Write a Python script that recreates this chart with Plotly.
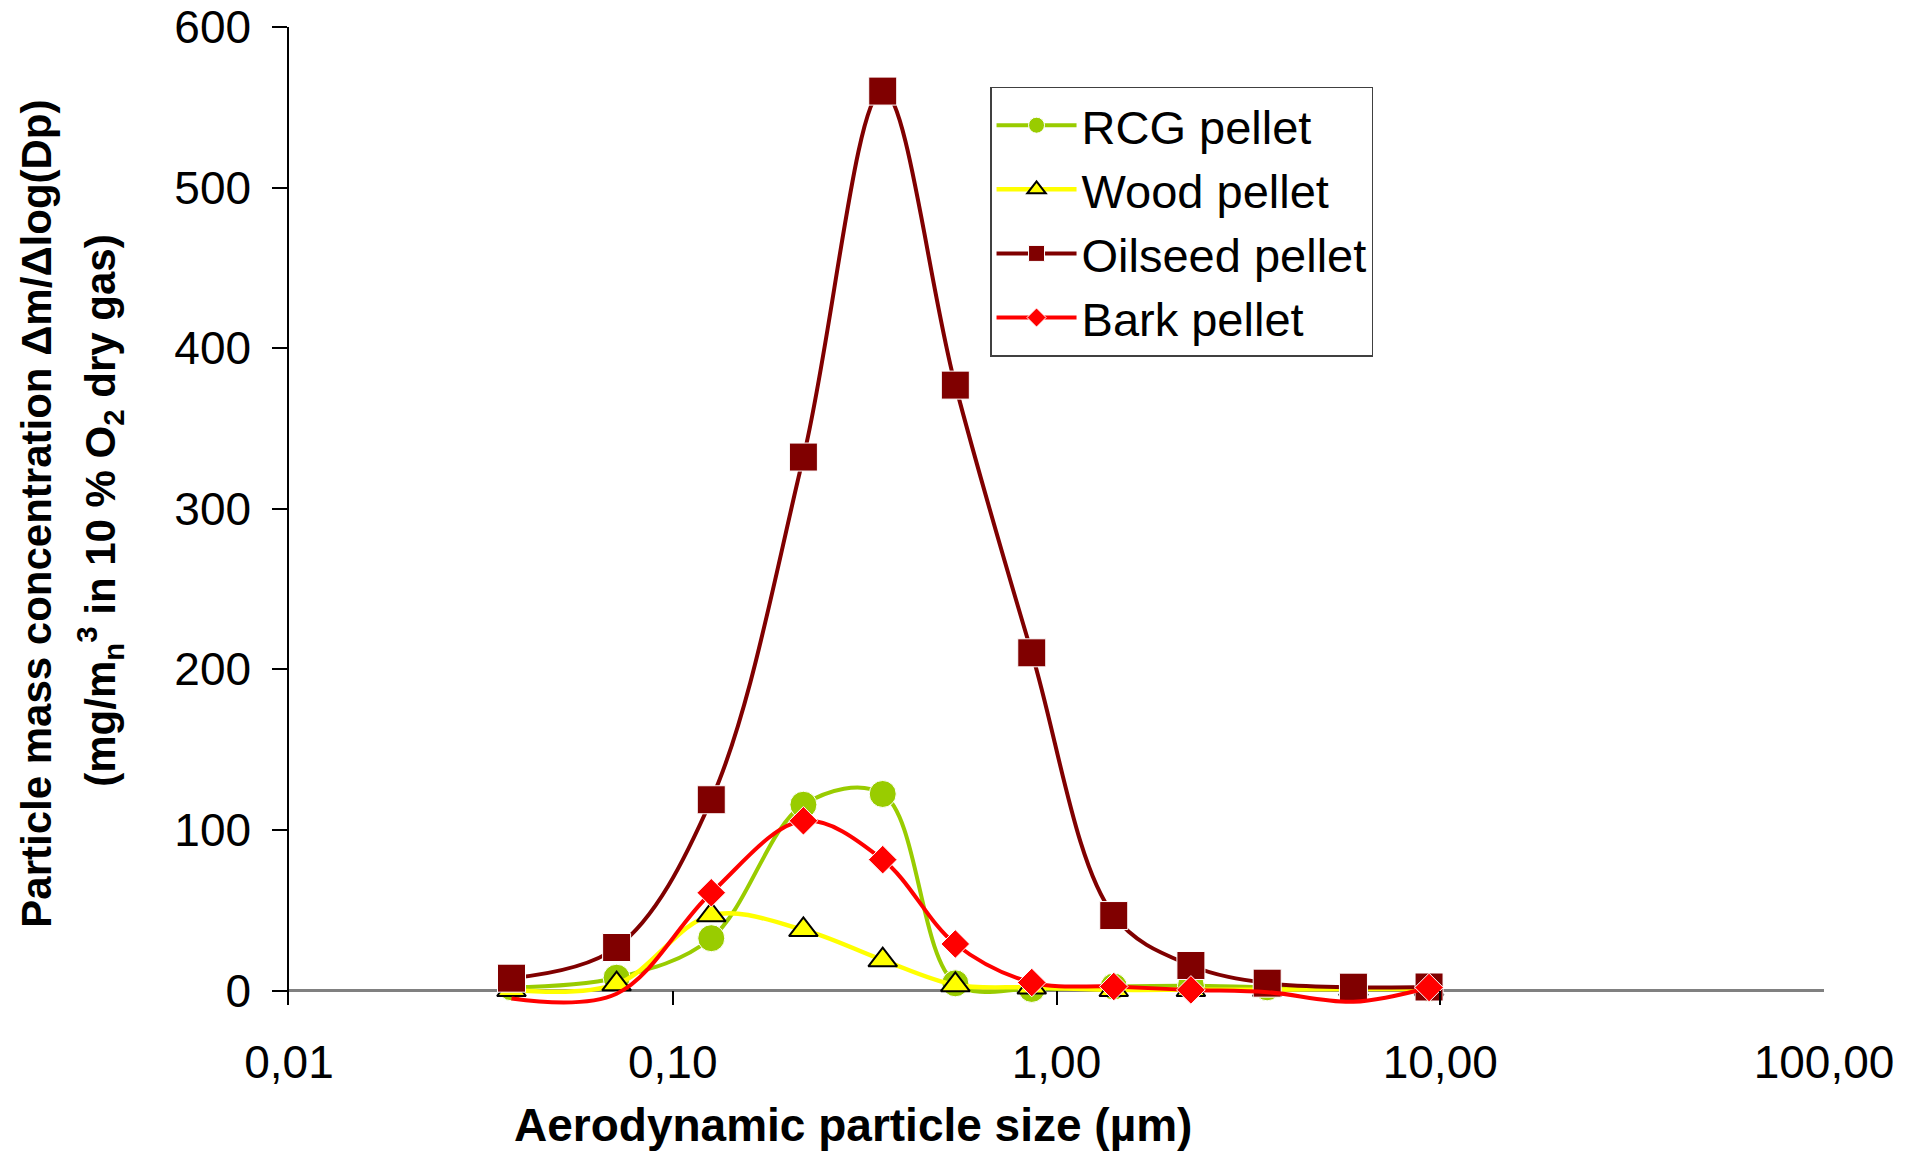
import plotly.graph_objects as go

# Aerodynamic particle size (µm) – impactor stage diameters
size_um = [0.038, 0.0714, 0.126, 0.219, 0.3525, 0.545, 0.862, 1.41, 2.24, 3.54, 5.94, 9.35]

rcg_pellet = [2, 8, 32.6, 115.7, 122.4, 4.5, 1, 2.5, 3, 2, 1.5, 1.5]
wood_pellet = [0.5, 4, 47, 37.8, 19, 3.5, 2, 0.5, 0.5, 0.5, 1, 1]
oilseed_pellet = [7.7, 26.8, 118.8, 332.2, 560.1, 377, 210.3, 46.7, 15.6, 4.6, 2.1, 2.2]
bark_pellet = [-5, -2, 60.9, 105.7, 81.5, 29, 5, 2.5, 0.4, -1, -7, 1.9]

x_tickvals = [0.01, 0.1, 1, 10, 100]
x_ticktext = ["0,01", "0,10", "1,00", "10,00", "100,00"]
y_tickvals = [0, 100, 200, 300, 400, 500, 600]

FONT = "Liberation Sans, Arial, sans-serif"


def sizes(vals, s):
    # points below the axis minimum are not drawn as markers (clipped as in the original)
    return [s if v >= 0 else 0 for v in vals]


fig = go.Figure()
fig.add_trace(go.Scatter(
    x=size_um, y=rcg_pellet, name="RCG pellet", mode="lines+markers",
    line=dict(color="#99CC00", width=4, shape="spline", smoothing=1),
    marker=dict(symbol="circle", size=sizes(rcg_pellet, 27), color="#99CC00", opacity=1),
))
fig.add_trace(go.Scatter(
    x=size_um, y=wood_pellet, name="Wood pellet", mode="lines+markers",
    line=dict(color="#FFFF00", width=4.5, shape="spline", smoothing=1),
    marker=dict(symbol="triangle-up", size=sizes(wood_pellet, 25), color="#FFFF00", opacity=1,
                line=dict(color="#000000", width=2)),
))
fig.add_trace(go.Scatter(
    x=size_um, y=oilseed_pellet, name="Oilseed pellet", mode="lines+markers",
    line=dict(color="#800000", width=4, shape="spline", smoothing=1),
    marker=dict(symbol="square", size=sizes(oilseed_pellet, 28), color="#800000", opacity=1),
))
fig.add_trace(go.Scatter(
    x=size_um, y=bark_pellet, name="Bark pellet", mode="lines+markers",
    line=dict(color="#FF0000", width=4, shape="spline", smoothing=1),
    marker=dict(symbol="diamond", size=sizes(bark_pellet, 22), color="#FF0000", opacity=1),
))

fig.update_layout(
    width=1918, height=1153,
    margin=dict(l=289, r=94, t=27, b=148, pad=0),
    paper_bgcolor="white", plot_bgcolor="white",
    font=dict(family=FONT, color="black", size=45),
    showlegend=True,
    legend=dict(
        x=0.4567, y=0.939, xanchor="left", yanchor="top",
        font=dict(family=FONT, size=47, color="black"),
        bgcolor="white", bordercolor="#404040", borderwidth=1.5,
        itemwidth=80,
    ),
    xaxis=dict(
        type="log", range=[-2, 2], automargin=False,
        tickvals=x_tickvals, ticktext=x_ticktext,
        ticks="inside", ticklen=14, tickwidth=1.5, tickcolor="black",
        showline=False, showgrid=False, zeroline=False,
        tickfont=dict(family=FONT, size=46, color="black"),
        ticklabelstandoff=26,
    ),
    yaxis=dict(
        range=[-9, 600], automargin=False,
        tickvals=y_tickvals,
        ticks="outside", ticklen=15, tickwidth=1.5, tickcolor="black",
        showline=True, linecolor="black", linewidth=1.5,
        showgrid=False,
        zeroline=True, zerolinecolor="#808080", zerolinewidth=2.5,
        tickfont=dict(family=FONT, size=46, color="black"),
        ticklabelstandoff=12,
    ),
    annotations=[
        dict(text="<b>Aerodynamic particle size (µm)</b>", xref="paper", yref="paper",
             x=0.3674, y=-0.1228, xanchor="center", yanchor="middle", showarrow=False,
             font=dict(family=FONT, size=46, color="black")),
        dict(text="<b>Particle mass concentration Δm/Δlog(Dp)</b>", xref="paper", yref="paper",
             x=-0.1642, y=0.5023, xanchor="center", yanchor="middle", showarrow=False,
             textangle=-90, font=dict(family=FONT, size=42, color="black")),
        dict(text="<b>(mg/m<sub>n</sub><sup>3</sup> in 10 % O<sub>2</sub> dry gas)</b>",
             xref="paper", yref="paper",
             x=-0.1231, y=0.5054, xanchor="center", yanchor="middle", showarrow=False,
             textangle=-90, font=dict(family=FONT, size=42, color="black")),
    ],
)

fig.write_html("out.html")
